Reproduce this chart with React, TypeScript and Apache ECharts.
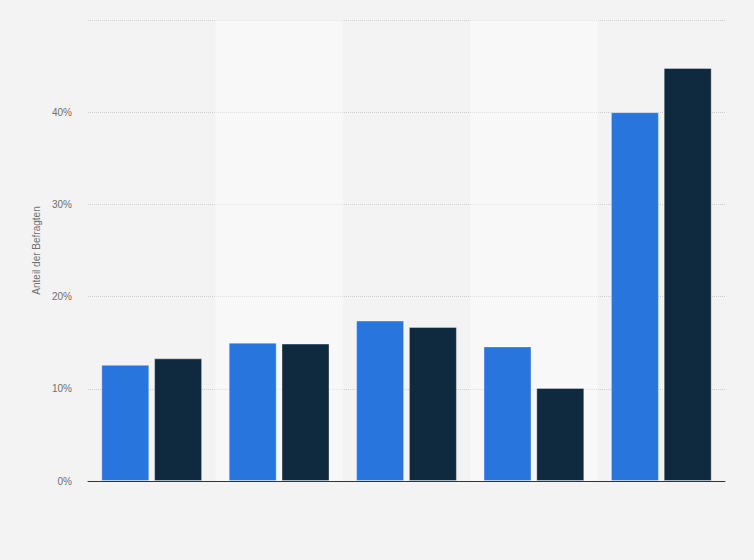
import { useRef, useEffect } from 'react';
import * as echarts from 'echarts';

const categories = ['Gruppe 1', 'Gruppe 2', 'Gruppe 3', 'Gruppe 4', 'Gruppe 5'];
const seriesNames = ['Serie 1', 'Serie 2'];
const valuesA = [12.6, 15.0, 17.4, 14.6, 40.0];
const valuesB = [13.3, 14.9, 16.7, 10.1, 44.8];
const yTicks = [0, 10, 20, 30, 40, 50];

const App: React.FC = () => {
  const chartRef = useRef<HTMLDivElement>(null);

  useEffect(() => {
    if (!chartRef.current) return;
    document.body.style.margin = '0';
    const chart = echarts.init(chartRef.current, undefined, { renderer: 'svg' });

    const option = {
      animation: false,
      backgroundColor: '#f3f3f3',
      textStyle: { fontFamily: 'Liberation Sans, Arial, sans-serif' },
      grid: { left: 88, right: 29, top: 20, bottom: 79, containLabel: false },
      xAxis: {
        type: 'category',
        data: categories,
        axisLine: { show: true, lineStyle: { color: '#333', width: 1 } },
        axisTick: { show: false },
        axisLabel: { show: false },
        splitArea: {
          show: true,
          areaStyle: { color: ['rgba(0,0,0,0)', 'rgba(255,255,255,0.4)'] },
        },
      },
      yAxis: {
        type: 'value',
        min: yTicks[0],
        max: yTicks[yTicks.length - 1],
        interval: 10,
        name: 'Anteil der Befragten',
        nameLocation: 'middle',
        nameGap: 44,
        nameTextStyle: { color: '#707070', fontSize: 10 },
        axisLine: { show: false },
        axisTick: { show: false },
        axisLabel: {
          color: '#707070',
          fontSize: 10,
          margin: 16,
          formatter: (v: number) => (v === 50 ? '' : v + '%'),
        },
        splitLine: { lineStyle: { color: '#cfcfcf', type: [1, 1] } },
      },
      series: [
        {
          name: seriesNames[0],
          type: 'bar',
          data: valuesA,
          barWidth: 48,
          barGap: '10%',
          itemStyle: { color: '#2876dd', borderColor: 'rgba(255,255,255,0.35)', borderWidth: 1 },
        },
        {
          name: seriesNames[1],
          type: 'bar',
          data: valuesB,
          barWidth: 48,
          barGap: '10%',
          itemStyle: { color: '#0f2a3f', borderColor: 'rgba(255,255,255,0.35)', borderWidth: 1 },
        },
      ],
    };

    chart.setOption(option);

    const handleResize = () => chart.resize();
    window.addEventListener('resize', handleResize);
    return () => {
      window.removeEventListener('resize', handleResize);
      chart.dispose();
    };
  }, []);

  return <div ref={chartRef} style={{ width: 754, height: 560 }} />;
};

export default App;
